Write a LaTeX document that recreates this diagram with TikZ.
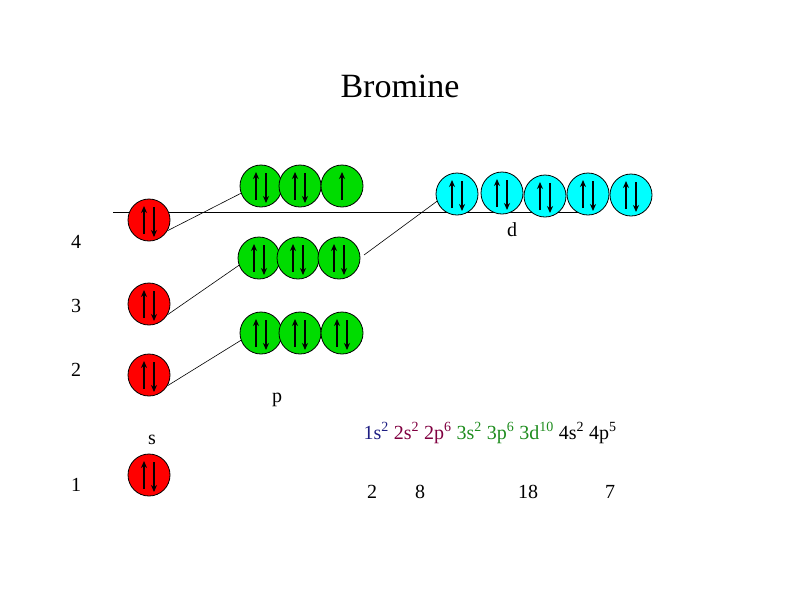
\documentclass[tikz,border=0pt]{standalone}
\usepackage{fontspec}
\setmainfont{Liberation Serif}
\usetikzlibrary{arrows.meta}
\definecolor{sred}{RGB}{255,0,0}
\definecolor{pgreen}{RGB}{0,220,0}
\definecolor{dcyan}{RGB}{0,255,255}
\definecolor{cblue}{RGB}{30,30,130}
\definecolor{cmaroon}{RGB}{128,0,64}
\definecolor{cgreen}{RGB}{30,140,30}
\tikzset{
  orb/.style={circle,draw=black,line width=0.8pt,minimum size=42pt,inner sep=0pt},
  sorb/.style={orb,fill=sred},
  porb/.style={orb,fill=pgreen},
  dorb/.style={orb,fill=dcyan},
  spin/.style={line width=2pt,-{Stealth[length=7pt,width=6pt]}},
  lbl/.style={font=\fontsize{20}{22}\selectfont},
  conn/.style={line width=0.6pt}
}
\newcommand{\pair}[1]{%
  \draw[spin] ([xshift=-5pt,yshift=-14pt]#1.center) -- ([xshift=-5pt,yshift=14pt]#1.center);
  \draw[spin] ([xshift=5pt,yshift=13pt]#1.center) -- ([xshift=5pt,yshift=-17pt]#1.center);}
\newcommand{\single}[1]{%
  \draw[spin] ([yshift=-14pt]#1.center) -- ([yshift=14pt]#1.center);}
\begin{document}
\begin{tikzpicture}[x=1pt,y=-1pt]
\useasboundingbox (0,0) rectangle (794,595);
\node[font=\fontsize{34}{38}\selectfont] (title) at (400,86) {Bromine};
\coordinate (hl) at (113,212); \coordinate (hr) at (590,212);
\draw[conn] (hl) -- (hr);
% s
\node[sorb] (s4) at (149,220) {};
\node[sorb] (s3) at (149,304) {};
\node[sorb] (s2) at (149,375) {};
\node[sorb] (s1) at (149,475) {};
% p
\node[porb] (p4a) at (261,186) {}; \node[porb] (p4b) at (300,186) {}; \node[porb] (p4c) at (342,186) {};
\node[porb] (p3a) at (259,258) {}; \node[porb] (p3b) at (298,258) {}; \node[porb] (p3c) at (339,258) {};
\node[porb] (p2a) at (261,333) {}; \node[porb] (p2b) at (300,333) {}; \node[porb] (p2c) at (342,333) {};
% d
\node[dorb] (d1) at (457,194) {};
\node[dorb] (d2) at (502,193) {};
\node[dorb] (d3) at (545,196) {};
\node[dorb] (d4) at (588,194) {};
\node[dorb] (d5) at (631,195) {};
% connectors
\draw[conn] (s4.-30) -- (p4a.200);
\draw[conn] (s3.-30) -- (p3a.200);
\draw[conn] (s2.-30) -- (p2a.200);
\coordinate (p3end) at (364,255);
\draw[conn] (p3end) -- (d1.200);
% spins
\foreach \n in {s4,s3,s2,s1,p4a,p4b,p3a,p3b,p3c,p2a,p2b,p2c,d1,d2,d3,d4,d5} {\pair{\n}}
\single{p4c}
% labels
\node[lbl] (l4) at (76,242) {4};
\node[lbl] (l3) at (76,306) {3};
\node[lbl] (l2) at (76,370) {2};
\node[lbl] (l1) at (76,485) {1};
\node[lbl] (ls) at (152,440) {s};
\node[lbl] (lp) at (277,400) {p};
\node[lbl] (ld) at (512,230) {d};
\node[lbl,anchor=west] (cfg) at (360,433) {\textcolor{cblue}{1s\textsuperscript{2}} \textcolor{cmaroon}{2s\textsuperscript{2} 2p\textsuperscript{6}} \textcolor{cgreen}{3s\textsuperscript{2} 3p\textsuperscript{6} 3d\textsuperscript{10}} 4s\textsuperscript{2} 4p\textsuperscript{5}};
\node[lbl] (n2) at (372,492) {2};
\node[lbl] (n8) at (420,492) {8};
\node[lbl] (n18) at (528,492) {18};
\node[lbl] (n7) at (610,492) {7};
\end{tikzpicture}
\end{document}
